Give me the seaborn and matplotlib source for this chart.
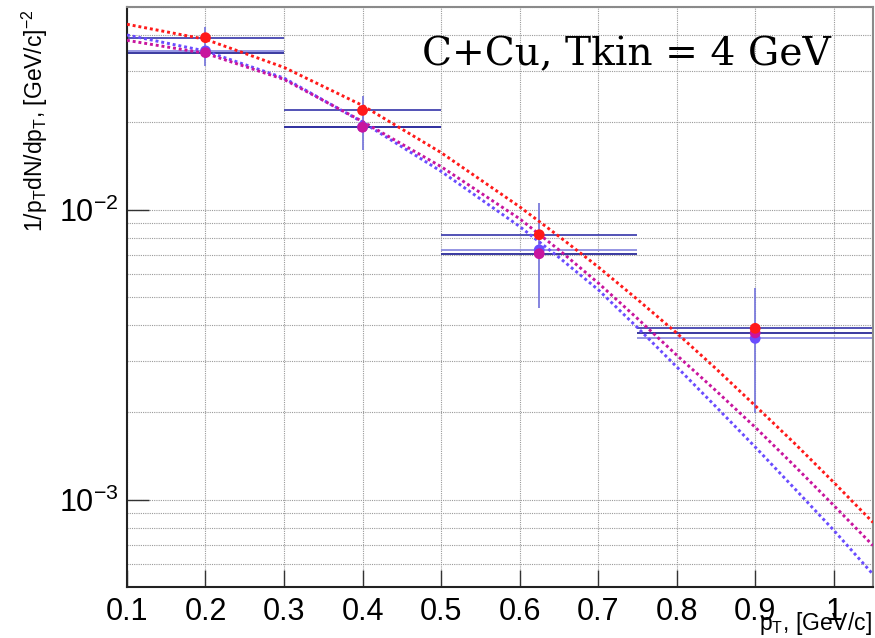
import numpy as np
import pandas as pd
import matplotlib
matplotlib.use("Agg")
import matplotlib.pyplot as plt
import matplotlib.ticker as mticker
import seaborn as sns

# ---------------- data ----------------
pt_points = [0.2, 0.4, 0.625, 0.9]
bin_lo = [0.1, 0.3, 0.5, 0.75]
bin_hi = [0.3, 0.5, 0.75, 1.05]

red_vals = [0.0392, 0.0220, 0.00820, 0.00390]
mag_vals = [0.0348, 0.01925, 0.00705, 0.00376]
blue_vals = [0.0353, 0.0193, 0.00727, 0.00360]
blue_err_lo = [0.0041, 0.0032, 0.00267, 0.00161]
blue_err_hi = [0.0073, 0.0053, 0.00330, 0.00178]

curve_pt = [0.1, 0.2, 0.3, 0.4, 0.5, 0.6, 0.65, 0.7, 0.75, 0.8, 0.85, 0.9, 0.95, 1.0, 1.05]
curve_red = [0.04360, 0.03869, 0.03096, 0.02288, 0.01574, 0.01024, 0.008100,
             0.006353, 0.004905, 0.003757, 0.002832, 0.002110, 0.001566,
             0.001148, 0.000835]
curve_mag = [0.03838, 0.03461, 0.02814, 0.02015, 0.01408, 0.009309, 0.007273,
             0.005593, 0.004217, 0.003153, 0.002377, 0.001778, 0.001309,
             0.000956, 0.000695]
curve_blue = [0.04004, 0.03525, 0.02844, 0.02004, 0.01356, 0.008756, 0.006853,
              0.005302, 0.003925, 0.002873, 0.002093, 0.001520, 0.001094,
              0.000785, 0.000553]

title_text = "C+Cu, Tkin = 4 GeV"
x_ticks = [0.1, 0.2, 0.3, 0.4, 0.5, 0.6, 0.7, 0.8, 0.9, 1.0]

# ---------------- style ----------------
sns.set_theme(style="white")
plt.rcParams["font.family"] = ["Liberation Sans", "DejaVu Sans"]
plt.rcParams["mathtext.fontset"] = "custom"
plt.rcParams["mathtext.rm"] = "Liberation Sans"
plt.rcParams["mathtext.it"] = "Liberation Sans:italic"
plt.rcParams["mathtext.default"] = "regular"

C_RED = "#ff1a1a"
C_MAG = "#c8159e"
C_BLUE = "#6a4cff"

fig = plt.figure(figsize=(8.75, 6.38), dpi=100)
ax = fig.add_axes([0.1451, 0.0799, 0.8526, 0.9091])
ax.set_facecolor("white")

df_curves = pd.DataFrame({
    "pt": curve_pt * 3,
    "val": curve_red + curve_mag + curve_blue,
    "fit": ["red"] * len(curve_pt) + ["mag"] * len(curve_pt) + ["blue"] * len(curve_pt),
})

# grid
ax.set_axisbelow(True)
ax.xaxis.grid(True, which="major", linestyle=(0, (1, 1)), color="#9a9a9a", lw=0.8)
ax.yaxis.grid(True, which="both", linestyle=(0, (1, 1)), color="#9a9a9a", lw=0.8)

# horizontal bin bars
for vals, col in [(blue_vals, "#8c8ce0"), (mag_vals, "#2a2a99"), (red_vals, "#4444b0")]:
    ax.hlines(vals, bin_lo, bin_hi, colors=col, lw=1.3, zorder=2)
# vertical errors
ax.errorbar(pt_points, blue_vals, yerr=[blue_err_lo, blue_err_hi], fmt="none",
            ecolor="#7b7bdc", elinewidth=1.3, capsize=0, zorder=2)

# fit curves
palette = {"red": C_RED, "mag": C_MAG, "blue": C_BLUE}
for name in ["blue", "mag", "red"]:
    sub = df_curves[df_curves["fit"] == name]
    sns.lineplot(data=sub, x="pt", y="val", ax=ax, color=palette[name],
                 lw=2.1, linestyle=(0, (1, 1)), zorder=3, legend=False)

# markers
df_pts = pd.DataFrame({
    "pt": pt_points * 3,
    "val": blue_vals + mag_vals + red_vals,
    "s": ["blue"] * 4 + ["mag"] * 4 + ["red"] * 4,
})
for name in ["blue", "mag", "red"]:
    sub = df_pts[df_pts["s"] == name]
    sns.scatterplot(data=sub, x="pt", y="val", ax=ax, color=palette[name],
                    s=60, edgecolor="none", zorder=4, legend=False)

ax.set_yscale("log")
ax.set_xlim(0.1, 1.05)
ax.set_ylim(0.0005, 0.05)
ax.set_xlabel("")
ax.set_ylabel("")

ax.xaxis.set_major_locator(mticker.FixedLocator(x_ticks))
ax.xaxis.set_minor_locator(mticker.MultipleLocator(0.02))
ax.xaxis.set_major_formatter(mticker.FuncFormatter(lambda v, p: f"{v:g}"))
ax.yaxis.set_major_locator(mticker.LogLocator(base=10))
ax.yaxis.set_minor_locator(mticker.LogLocator(base=10, subs=np.arange(2, 10)))
ax.yaxis.set_minor_formatter(mticker.NullFormatter())

ax.tick_params(axis="x", which="major", direction="in", length=12, width=1,
               color="#333333", labelsize=22, pad=7, labelcolor="black")
ax.tick_params(axis="x", which="minor", direction="in", length=6, width=1, color="#333333")
ax.tick_params(axis="y", which="major", direction="in", length=16, width=1,
               color="#333333", labelsize=22, pad=6, labelcolor="black")
ax.tick_params(axis="y", which="minor", direction="in", length=8, width=1, color="#333333")
ax.tick_params(right=False, top=False, left=True, bottom=True)

for side in ["left", "bottom"]:
    ax.spines[side].set_color("#222222")
    ax.spines[side].set_linewidth(1.5)
for side in ["top", "right"]:
    ax.spines[side].set_color("#8a8a8a")
    ax.spines[side].set_linewidth(1.5)

# title text, sized to span the same width as in the reference
t = fig.text(421.7 / 875, 1 - 65 / 638, title_text, family="DejaVu Serif",
             fontsize=30, ha="left", va="baseline", color="black")
renderer = fig.canvas.get_renderer()
w = t.get_window_extent(renderer).width
t.set_fontsize(30 * 408 / w)

fig.text(35 / 875, 1 - 9 / 638, r"$1/p_{T}dN/dp_{T}$, [GeV/c]$^{-2}$",
         rotation=90, ha="center", va="top", fontsize=16.5, color="black")
fig.text(872 / 875, 1 - 630 / 638, r"$p_{T}$, [GeV/c]",
         ha="right", va="baseline", fontsize=16.5, color="black")

fig.savefig("out.png", dpi=100)
